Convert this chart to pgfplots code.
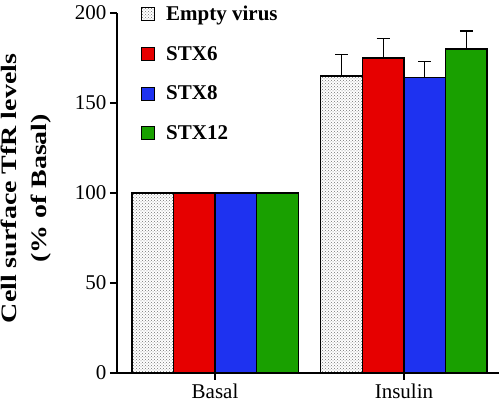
\documentclass[border=0pt]{standalone}
\usepackage{pgfplots}
\pgfplotsset{compat=1.18}
\usepackage{graphicx}
\usepackage{fontspec}
\setmainfont{Liberation Serif}
\usetikzlibrary{patterns,calc}
\definecolor{cred}{RGB}{230,0,0}
\definecolor{cblue}{RGB}{30,50,240}
\definecolor{cgreen}{RGB}{25,160,0}
\begin{document}
\begin{tikzpicture}
\begin{axis}[
 scale only axis, width=382pt, height=360pt,
 xmin=-0.519, xmax=1.503, ymin=0, ymax=200,
 axis lines*=left, axis line style={line width=1.6pt},
 xtick={0,1}, xticklabels={Basal,Insulin},
 ytick={0,50,100,150,200},
 tick align=outside, major tick length=7pt, tick style={line width=1.6pt, black},
 tick label style={font=\fontsize{21}{23}\selectfont},
 /pgf/number format/assume math mode=true,
 ylabel={\scalebox{1.27}[1]{\begin{tabular}{@{}c@{}}Cell surface TfR levels\\(\% of Basal)\end{tabular}}},
 ylabel style={font=\bfseries\fontsize{22}{30}\selectfont, inner sep=0pt, at={(rel axis cs:-0.16,0.5125)}, anchor=south},
 ybar, bar width=0.22,
 legend style={at={(rel axis cs:0.055,1.03)}, anchor=north west, draw=none, fill=none,
   font=\bfseries\fontsize{21}{23}\selectfont, row sep=20pt,
   /tikz/every odd column/.append style={column sep=9pt}},
 legend cell align=left,
 legend image code/.code={\draw[#1, line width=1pt] (0pt,-6.5pt) rectangle (13pt,6.5pt);},
 every axis plot/.append style={draw=black, line width=1.3pt},
 error bars/error bar style={line width=1.3pt, black},
 error bars/error mark options={rotate=90, mark size=6.5pt, line width=1.3pt, black},
]
\addplot[bar shift=-0.33, pattern=crosshatch dots, pattern color=black!55, error bars/.cd, y dir=plus, y explicit]
 coordinates {(1,165) +- (0,12)};
\addlegendentry{Empty virus}
\addplot[bar shift=-0.11, fill=cred, error bars/.cd, y dir=plus, y explicit]
 coordinates {(1,175) +- (0,11)};
\addlegendentry{STX6}
\addplot[bar shift=0.11, fill=cblue, error bars/.cd, y dir=plus, y explicit]
 coordinates {(1,164) +- (0,9)};
\addlegendentry{STX8}
\addplot[bar shift=0.33, fill=cgreen, error bars/.cd, y dir=plus, y explicit]
 coordinates {(1,180) +- (0,10)};
\addlegendentry{STX12}
\addplot[forget plot, bar shift=-0.33, pattern=crosshatch dots, pattern color=black!55] coordinates {(0,100)};
\addplot[forget plot, bar shift=-0.11, fill=cred] coordinates {(0,100)};
\addplot[forget plot, bar shift=0.11, fill=cblue] coordinates {(0,100)};
\addplot[forget plot, bar shift=0.33, fill=cgreen] coordinates {(0,100)};
\coordinate (ll) at (rel axis cs:0,0);
\coordinate (ur) at (rel axis cs:1,1);
\end{axis}
\pgfresetboundingbox
\path ($(ll)+(-117pt,-33pt)$) rectangle ($(ur)+(2pt,13pt)$);
\end{tikzpicture}
\end{document}
